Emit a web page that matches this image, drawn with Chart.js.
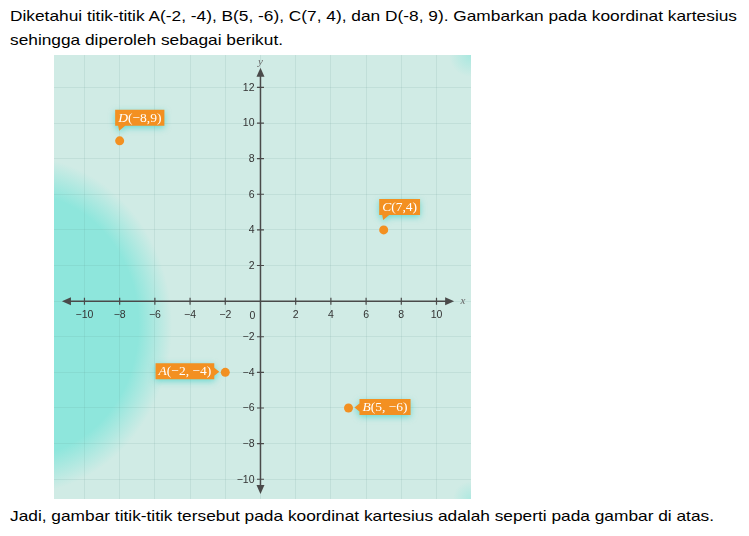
<!DOCTYPE html>
<html>
<head>
<meta charset="utf-8">
<script src="https://cdn.jsdelivr.net/npm/chart.js@4.4.1/dist/chart.umd.min.js"></script>
<style>
  html, body { margin: 0; padding: 0; background: #fff; width: 749px; height: 536px; overflow: hidden; }
  .txt { position: absolute; left: 10px; font: 15px "Liberation Sans", Arial, sans-serif; line-height: 23.5px;
         white-space: nowrap; color: #000; transform-origin: 0 0; }
  #wrap { position: absolute; left: 54px; top: 55px; width: 417px; height: 444px; }
</style>
</head>
<body>
<div class="txt" style="top:4px" data-w="727">Diketahui titik-titik A(-2, -4), B(5, -6), C(7, 4), dan D(-8, 9). Gambarkan pada koordinat kartesius</div>
<div class="txt" style="top:27.5px" data-w="273">sehingga diperoleh sebagai berikut.</div>
<div class="txt" style="top:504px" data-w="704">Jadi, gambar titik-titik tersebut pada koordinat kartesius adalah seperti pada gambar di atas.</div>
<div id="wrap"><canvas id="myChart"></canvas></div>
<script>
  // data
  const pointNames = ['A', 'B', 'C', 'D'];
  const pointX = [-2, 5, 7, -8];
  const pointY = [-4, -6, 4, 9];
  const pointLabels = ['A(\u22122, \u22124)', 'B(5, \u22126)', 'C(7,4)', 'D(\u22128,9)'];
  const labelSide = ['left', 'right', 'top', 'top'];
  const xTicks = [-10, -8, -6, -4, -2, 0, 2, 4, 6, 8, 10];
  const yTicks = [-10, -8, -6, -4, -2, 0, 2, 4, 6, 8, 10, 12];

  // squeeze the text lines to the width of the original (Calibri is narrow)
  document.querySelectorAll('.txt').forEach(el => {
    const w = el.getBoundingClientRect().width;
    el.style.transform = 'scaleX(' + (el.dataset.w / w) + ')';
  });

  const fmt = v => v < 0 ? '\u2212' + (-v) : String(v);
  const tickFont = '10.5px "Liberation Sans", Arial, sans-serif';

  const bgPlugin = {
    id: 'bg',
    beforeDraw(chart) {
      const { ctx, chartArea: a } = chart;
      ctx.save();
      ctx.beginPath();
      ctx.rect(a.left, a.top, a.width, a.height);
      ctx.clip();
      ctx.fillStyle = '#d0ebe5';
      ctx.fillRect(a.left, a.top, a.width, a.height);
      const glow = (cx, cy, r, sy, stop, alpha) => {
        ctx.save();
        ctx.translate(cx, cy);
        ctx.scale(1, sy);
        const g = ctx.createRadialGradient(0, 0, 0, 0, 0, r);
        g.addColorStop(0, 'rgba(142,230,220,' + alpha + ')');
        g.addColorStop(stop, 'rgba(142,230,220,' + alpha + ')');
        g.addColorStop(1, 'rgba(142,230,220,0)');
        ctx.fillStyle = g;
        ctx.fillRect(-r, -r, 2 * r, 2 * r);
        ctx.restore();
      };
      glow(a.left - 34, a.top + 270, 152, 1.11, 0.78, 1);
      glow(a.right, a.top, 22, 1, 0, 0.6);
      glow(a.right, a.bottom, 18, 1, 0, 0.5);
      ctx.restore();
    }
  };

  const axesPlugin = {
    id: 'axes',
    afterDatasetsDraw(chart) {
      const { ctx, scales: { x, y } } = chart;
      const x0 = x.getPixelForValue(0), y0 = y.getPixelForValue(0);
      ctx.save();
      ctx.strokeStyle = '#4a4a4a';
      ctx.fillStyle = '#4a4a4a';
      ctx.lineWidth = 1.5;
      const xl = x.getPixelForValue(-11.28), xr = x.getPixelForValue(11.0);
      const yt = y.getPixelForValue(13.1), yb = y.getPixelForValue(-10.83);
      ctx.beginPath();
      ctx.moveTo(xl + 4, y0); ctx.lineTo(xr - 4, y0);
      ctx.moveTo(x0, yt + 4); ctx.lineTo(x0, yb - 4);
      ctx.stroke();
      // arrow heads
      const tri = (p1, p2, p3) => {
        ctx.beginPath(); ctx.moveTo(...p1); ctx.lineTo(...p2); ctx.lineTo(...p3); ctx.closePath(); ctx.fill();
      };
      tri([xl, y0], [xl + 9, y0 - 4], [xl + 9, y0 + 4]);
      tri([xr, y0], [xr - 9, y0 - 4], [xr - 9, y0 + 4]);
      tri([x0, yt], [x0 - 4, yt + 9], [x0 + 4, yt + 9]);
      tri([x0, yb], [x0 - 4, yb - 9], [x0 + 4, yb - 9]);
      // tick marks crossing the axes
      ctx.lineWidth = 1.2;
      ctx.beginPath();
      x.ticks.forEach(t => {
        if (t.value === 0) return;
        const px = x.getPixelForValue(t.value);
        ctx.moveTo(px, y0 - 3.5); ctx.lineTo(px, y0 + 3.5);
      });
      y.ticks.forEach(t => {
        if (t.value === 0) return;
        const py = y.getPixelForValue(t.value);
        ctx.moveTo(x0 - 3.5, py); ctx.lineTo(x0 + 3.5, py);
      });
      ctx.stroke();
      // y tick labels, right aligned left of the axis
      ctx.fillStyle = '#333';
      ctx.font = tickFont;
      ctx.textAlign = 'right';
      ctx.textBaseline = 'middle';
      y.ticks.forEach(t => {
        if (t.value === 0) return;
        ctx.fillText(fmt(t.value), x0 - 6, y.getPixelForValue(t.value) + 0.5);
      });
      ctx.textAlign = 'center';
      ctx.fillText('0', x0 - 8, y0 + 14.5);
      // axis names
      ctx.fillStyle = '#666';
      ctx.font = 'italic 11px "Liberation Serif", serif';
      ctx.fillText('x', x.getPixelForValue(11.5), y0);
      ctx.fillText('y', x0, y.getPixelForValue(13.43));

      // callouts
      const meta = chart.getDatasetMeta(0);
      const lf = '13.5px "Liberation Serif", serif';
      meta.data.forEach((pt, i) => {
        const px = pt.x, py = pt.y;
        const txt = pointLabels[i];
        const name = txt.slice(0, 1), rest = txt.slice(1);
        ctx.font = 'italic ' + lf;
        const w1 = ctx.measureText(name).width;
        ctx.font = lf;
        const w2 = ctx.measureText(rest).width;
        const bw = w1 + w2 + 6, bh = 16;
        let bx, by;
        ctx.fillStyle = '#f39021';
        ctx.shadowColor = 'rgba(40,205,195,0.6)';
        ctx.shadowBlur = 6;
        ctx.shadowOffsetY = 2;
        ctx.beginPath();
        if (labelSide[i] === 'top') {
          bx = px - 4.5; by = py - 15 - bh;
          ctx.moveTo(bx, by); ctx.lineTo(bx + bw, by); ctx.lineTo(bx + bw, by + bh);
          ctx.lineTo(bx + 10, by + bh); ctx.lineTo(bx + 4, by + bh + 5); ctx.lineTo(bx + 3, by + bh);
          ctx.lineTo(bx, by + bh);
        } else if (labelSide[i] === 'left') {
          bx = px - 11 - bw; by = py - bh / 2 - 1;
          ctx.moveTo(bx, by); ctx.lineTo(bx + bw, by); ctx.lineTo(bx + bw, py - 4.5);
          ctx.lineTo(bx + bw + 5, py - 0.5); ctx.lineTo(bx + bw, py + 3.5); ctx.lineTo(bx + bw, by + bh);
          ctx.lineTo(bx, by + bh);
        } else {
          bx = px + 11; by = py - bh / 2 - 1;
          ctx.moveTo(bx, by); ctx.lineTo(bx + bw, by); ctx.lineTo(bx + bw, by + bh);
          ctx.lineTo(bx, by + bh); ctx.lineTo(bx, py + 3.5); ctx.lineTo(bx - 5, py - 0.5); ctx.lineTo(bx, py - 4.5);
        }
        ctx.closePath();
        ctx.fill();
        ctx.shadowColor = 'transparent';
        ctx.fillStyle = '#fff';
        ctx.textAlign = 'left';
        ctx.textBaseline = 'middle';
        ctx.font = 'italic ' + lf;
        ctx.fillText(name, bx + 3, by + bh / 2 + 0.5);
        ctx.font = lf;
        ctx.fillText(rest, bx + 3 + w1, by + bh / 2 + 0.5);
      });
      ctx.restore();
    }
  };

  const noPad = s => { s.paddingTop = 0; s.paddingBottom = 0; s.paddingLeft = 0; s.paddingRight = 0; };

  let ctx = document.getElementById('myChart');
  const myChart = new Chart(ctx, {
    type: 'scatter',
    data: {
      datasets: [{
        label: 'Titik',
        data: pointX.map((v, i) => ({ x: v, y: pointY[i] })),
        backgroundColor: '#f39021',
        borderWidth: 0,
        pointRadius: 4.5
      }]
    },
    options: {
      responsive: true,
      maintainAspectRatio: false,
      animation: false,
      layout: { padding: 0, autoPadding: false },
      scales: {
        x: {
          type: 'linear',
          min: -11.73,
          max: 11.96,
          position: { y: 0 },
          afterBuildTicks: s => { s.ticks = xTicks.map(v => ({ value: v })); },
          afterFit: noPad,
          border: { display: false },
          grid: { color: 'rgba(90,150,140,0.13)', drawTicks: false },
          ticks: {
            color: '#333',
            font: { family: '"Liberation Sans", Arial, sans-serif', size: 10.5 },
            padding: 8,
            maxRotation: 0,
            autoSkip: false,
            callback: v => v === 0 ? '' : fmt(v)
          }
        },
        y: {
          type: 'linear',
          min: -11.11,
          max: 13.82,
          position: { x: 0 },
          afterBuildTicks: s => { s.ticks = yTicks.map(v => ({ value: v })); },
          afterFit: noPad,
          border: { display: false },
          grid: { color: 'rgba(90,150,140,0.13)', drawTicks: false },
          ticks: { display: false }
        }
      },
      plugins: {
        legend: { display: false },
        tooltip: { enabled: false }
      }
    },
    plugins: [bgPlugin, axesPlugin]
  });
</script>
</body>
</html>
